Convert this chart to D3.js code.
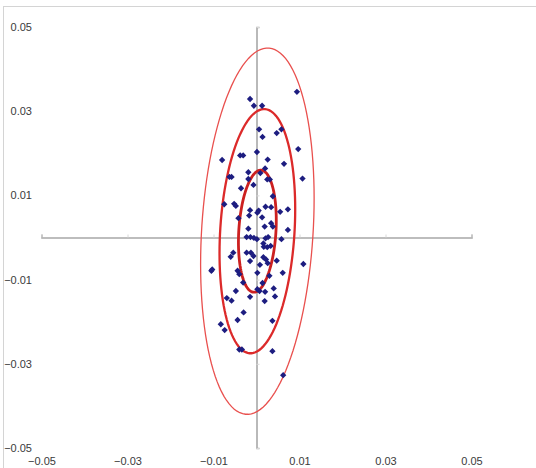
<!DOCTYPE html>
<html>
<head>
<meta charset="utf-8">
<script src="https://cdn.jsdelivr.net/npm/d3@7"></script>
<style>
  body { margin: 0; background: #fff; }
  text { font-family: "Liberation Sans", Arial, sans-serif; }
</style>
</head>
<body>
<script>
//svg size
var svgWidth = 536;
var svgHeight = 468;

//tick labels, same on both axes
var tickValues = [-0.05, -0.03, -0.01, 0.01, 0.03, 0.05];

//points
var xs = [0.0094, -0.0015, -0.0006, 0.0013, 0.0006, 0.0014, 0.0047, 0.0058, 0.0097, -0.0080,
          -0.0038, -0.0031, 0.0001, 0.0026, 0.0064, 0.0020, 0.0107, -0.0063, -0.0058, -0.0019,
          -0.0019, 0.0025, 0.0031, 0.0009, -0.0036, -0.0007, 0.0038, -0.0075, -0.0052, -0.0048,
          -0.0015, 0.0002, 0.0005, 0.0021, 0.0034, 0.0055, 0.0073, -0.0042, -0.0017, 0.0013,
          0.0034, 0.0038, 0.0019, -0.0019, 0.0073, -0.0023, -0.0014, -0.0006, 0.0001, 0.0021,
          0.0027, 0.0058, 0.0016, 0.0017, 0.0025, 0.0033, -0.0054, -0.0060, -0.0023, -0.0013,
          -0.0015, -0.0007, 0.0016, 0.0022, 0.0008, 0.0026, 0.0047, 0.0109, -0.0103, -0.0105,
          -0.0044, -0.0040, 0.0002, 0.0061, 0.0030, -0.0031, 0.0014, 0.0040, -0.0048, 0.0002,
          0.0007, 0.0020, 0.0043, -0.0069, -0.0058, -0.0015, 0.0019, -0.0030, -0.0044, 0.0037,
          -0.0083, -0.0074, -0.0040, -0.0034, 0.0037, 0.0062];
var ys = [0.0346, 0.0329, 0.0313, 0.0313, 0.0257, 0.0239, 0.0248, 0.0257, 0.0210, 0.0184,
          0.0195, 0.0195, 0.0203, 0.0185, 0.0175, 0.0164, 0.0140, 0.0144, 0.0144, 0.0155,
          0.0139, 0.0138, 0.0138, 0.0153, 0.0117, 0.0125, 0.0098, 0.0079, 0.0080, 0.0075,
          0.0065, 0.0059, 0.0064, 0.0073, 0.0072, 0.0061, 0.0067, 0.0046, 0.0052, 0.0048,
          0.0034, 0.0026, 0.0026, 0.0021, 0.0018, 0.0001, 0.0001, -0.0001, -0.0004, -0.0002,
          0.0001, -0.0004, -0.0014, -0.0022, -0.0023, -0.0020, -0.0036, -0.0046, -0.0036, -0.0036,
          -0.0056, -0.0044, -0.0047, -0.0052, -0.0065, -0.0061, -0.0055, -0.0063, -0.0076, -0.0079,
          -0.0079, -0.0087, -0.0084, -0.0084, -0.0091, -0.0107, -0.0108, -0.0121, -0.0127, -0.0123,
          -0.0127, -0.0129, -0.0140, -0.0144, -0.0150, -0.0141, -0.0151, -0.0178, -0.0196, -0.0198,
          -0.0206, -0.0220, -0.0266, -0.0266, -0.0270, -0.0327];

//confidence ellipses, k sigma around the mean
var ellipseK = [3, 2, 1];
var ellipseMean = [0.0002, 0.0015];
var ellipseSd = [0.0044, 0.0145];
var ellipseRho = 0.18;

var points = xs.map(function(d, i){ return {x: d, y: ys[i]}; });

var svg = d3.select("body")
    .append("svg")
    .attr("width", svgWidth)
    .attr("height", svgHeight);

//light frame on top and left
svg.append("line").attr("x1", 3).attr("x2", svgWidth).attr("y1", 6.5).attr("y2", 6.5)
    .style("stroke", "#d4d4d4");
svg.append("line").attr("x1", 3.5).attr("x2", 3.5).attr("y1", 6).attr("y2", svgHeight)
    .style("stroke", "#d4d4d4");

var x = d3.scaleLinear().domain([-0.05, 0.05]).range([41.5, 471.5]);
var y = d3.scaleLinear().domain([-0.05, 0.05]).range([448, 27]);

//axes through the origin
var xAxis = svg.append("g")
    .attr("transform", "translate(0," + y(0) + ")")
    .call(d3.axisTop(x).tickValues(tickValues).tickSize(3).tickSizeOuter(3).tickFormat(""));
var yAxis = svg.append("g")
    .attr("transform", "translate(" + x(0) + ",0)")
    .call(d3.axisRight(y).tickValues(tickValues).tickSize(3).tickSizeOuter(3).tickFormat(""));
[xAxis, yAxis].forEach(function(g){
    g.select(".domain").style("stroke", "#a8a8a8").style("stroke-width", 1.6);
    g.selectAll(".tick line").style("stroke", "#d8d8d8");
});

//tick labels sit on the edges
var fmt = d3.format(".2f");
var yLabels = svg.append("g")
    .attr("transform", "translate(32,0)")
    .call(d3.axisLeft(y).tickValues(tickValues).tickSize(0).tickPadding(0).tickFormat(fmt));
var xLabels = svg.append("g")
    .attr("transform", "translate(0,457)")
    .call(d3.axisBottom(x).tickValues(tickValues).tickSize(0).tickPadding(0).tickFormat(fmt));
[yLabels, xLabels].forEach(function(g){
    g.select(".domain").remove();
    g.selectAll("text").style("font-size", "11px").style("fill", "#3a3a3a");
});

//ellipse outline for k sigma
function ellipsePoints(k){
    var pts = [];
    var s = Math.sqrt(1 - ellipseRho * ellipseRho);
    for (var i = 0; i < 120; i++){
        var t = i / 120 * 2 * Math.PI;
        pts.push([
            ellipseMean[0] + k * ellipseSd[0] * Math.cos(t),
            ellipseMean[1] + k * ellipseSd[1] * (ellipseRho * Math.cos(t) + s * Math.sin(t))
        ]);
    }
    return pts;
}

var ellipseLine = d3.line()
    .x(function(d){ return x(d[0]); })
    .y(function(d){ return y(d[1]); })
    .curve(d3.curveLinearClosed);

svg.selectAll("path.ellipse")
    .data(ellipseK)
    .enter()
    .append("path")
    .attr("class", "ellipse")
    .attr("d", function(k){ return ellipseLine(ellipsePoints(k)); })
    .style("fill", "none")
    .style("stroke", function(k){ return k == 3 ? "#e9504e" : k == 2 ? "#dc2a2a" : "#cc2020"; })
    .style("stroke-width", function(k){ return k == 3 ? 1.3 : k == 2 ? 2.3 : 2.8; });

//points as small diamonds
svg.selectAll("path.pt")
    .data(points)
    .enter()
    .append("path")
    .attr("class", "pt")
    .attr("d", d3.symbol(d3.symbolSquare, 20))
    .attr("transform", function(d){ return "translate(" + x(d.x) + "," + y(d.y) + ") rotate(45)"; })
    .style("fill", "#1d1d80");
</script>
</body>
</html>
